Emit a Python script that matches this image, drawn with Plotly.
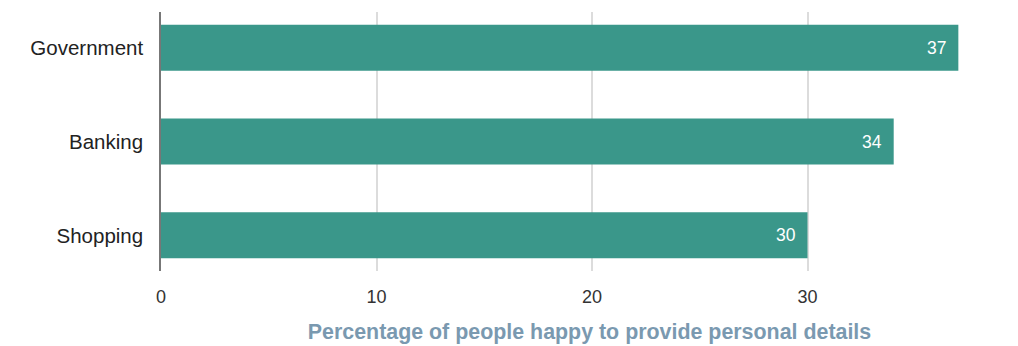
import plotly.graph_objects as go

categories = ["Government", "Banking", "Shopping"]
values = [37, 34, 30]
tick_vals = [0, 10, 20, 30]
axis_title = "Percentage of people happy to provide personal details"

BAR = "#3a978a"
FONT = "Liberation Sans, Arial, Helvetica, sans-serif"

# page body has an 8px default margin, so figure is offset by (8, 8)
W, H = 1010, 338
L, R, T, B = 153, 0, 4, 75
px_per_unit = 21.55
xmax = (W - L - R) / px_per_unit

fig = go.Figure()
fig.add_trace(go.Bar(
    y=categories, x=values, orientation="h",
    marker=dict(color=BAR, line=dict(width=0)),
    width=0.49,
    hoverinfo="skip",
))

for c, v in zip(categories, values):
    fig.add_annotation(x=v, y=c, xref="x", yref="y", text=str(v),
                       showarrow=False, xanchor="right", yanchor="middle",
                       xshift=-10, font=dict(family=FONT, size=17.5, color="white"))

# partially visible "40" tick label beyond right edge
fig.add_annotation(x=(40 * px_per_unit) / (W - L - R), y=0, xref="paper", yref="paper",
                   text="40", showarrow=False, xanchor="center", yanchor="top",
                   yshift=-11, font=dict(family=FONT, size=18, color="#333333"))

fig.update_layout(
    width=W, height=H, autosize=False,
    margin=dict(l=L, r=R, t=T, b=B, pad=0),
    paper_bgcolor="white", plot_bgcolor="white",
    showlegend=False,
    font=dict(family=FONT),
    xaxis=dict(
        range=[0, xmax], tickvals=tick_vals, ticktext=[str(t) for t in tick_vals],
        showgrid=True, gridcolor="#dcdcdc", gridwidth=1.5,
        zeroline=False, showline=False,
        ticks="outside", ticklen=9, tickcolor="rgba(0,0,0,0)",
        tickfont=dict(family=FONT, size=18, color="#333333"),
        title=dict(text="<b>" + axis_title + "</b>", standoff=18,
                   font=dict(family=FONT, size=21.4, color="#7a99b0")),
        fixedrange=True,
    ),
    yaxis=dict(
        categoryorder="array", categoryarray=categories,
        range=[2.38, -0.38],
        showgrid=False, zeroline=False,
        showline=True, linecolor="#777777", linewidth=1.5,
        ticks="outside", ticklen=12, tickcolor="rgba(0,0,0,0)",
        tickfont=dict(family=FONT, size=20.5, color="#222222"),
        fixedrange=True,
    ),
)

fig.write_html("out.html")
